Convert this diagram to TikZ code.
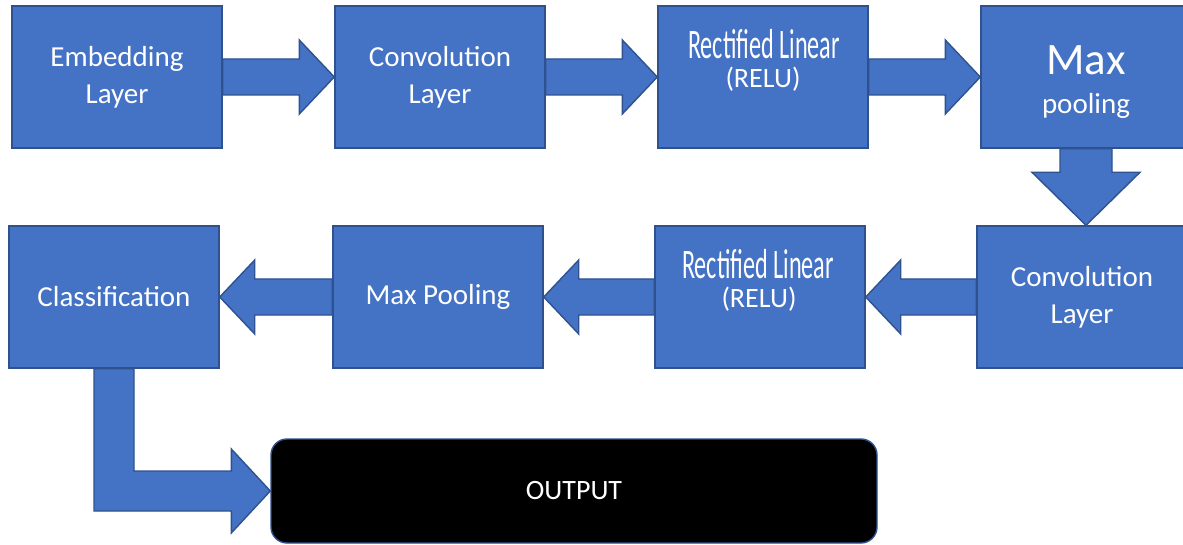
\documentclass[tikz,border=0pt]{standalone}
\usepackage{fontspec}
\usepackage{graphicx}
\setmainfont{Carlito}
\usetikzlibrary{calc}
\definecolor{boxblue}{RGB}{68,114,196}
\definecolor{edgeblue}{RGB}{47,82,143}
\tikzset{
  layer/.style={draw=edgeblue,fill=boxblue,line width=1.4pt,text=white,
    minimum width=210pt,minimum height=142pt,inner sep=0pt,align=center,
    font=\fontsize{29}{37}\selectfont},
  fatarrow/.style={draw=edgeblue,fill=boxblue,line width=1.4pt,line join=miter},
  whitetext/.style={text=white,inner sep=0pt,anchor=base}
}
% squeezed label, as in the reference
\newcommand{\squashed}{\fontsize{42}{48}\selectfont\resizebox{152pt}{\height}{Rectified Linear}}
% #1 start, #2 tip, #3 shaft half width, #4 head half width, #5 head length
\newcommand{\blockarrow}[5]{%
  \coordinate (ba) at ($(#2)!#5!(#1)$);
  \draw[fatarrow] ($(#1)!#3!90:(#2)$) -- ($(ba)!#3!-90:(#1)$) -- ($(ba)!#4!-90:(#1)$)
    -- (#2) -- ($(ba)!#4!90:(#1)$) -- ($(ba)!#3!90:(#1)$) -- ($(#1)!#3!-90:(#2)$) -- cycle;
}

\begin{document}
\begin{tikzpicture}[x=1pt,y=-1pt]
  \useasboundingbox (0,0) rectangle (1183,545);
  \clip (0,0) rectangle (1183,545);
  \foreach \n/\x/\y/\t in {
    emb/117/77/Embedding\\Layer,
    conv1/440/77/Convolution\\Layer,
    relu1/763/77/{},
    maxp1/1086/77/{{\fontsize{45}{50}\selectfont\rule{0pt}{39pt}Max}\\[2pt]pooling},
    cls/114/297/Classification,
    maxp2/438/297/Max Pooling,
    relu2/760/297/{},
    conv2/1082/297/Convolution\\Layer}
  {
    \node[layer] (\n) at (\x,\y) {\t};
  }
  \node[whitetext] (relu1a) at (764,59) {\squashed};
  \node[whitetext,font=\fontsize{28}{34}\selectfont] (relu1b) at (763,88) {(RELU)};
  \node[whitetext] (relu2a) at (758,279) {\squashed};
  \node[whitetext,font=\fontsize{28}{34}\selectfont] (relu2b) at (759,308) {(RELU)};
  \node[draw=edgeblue,fill=black,line width=1.4pt,rounded corners=16pt,
    minimum width=606pt,minimum height=104pt,text=white,
    font=\fontsize{28}{34}\selectfont] (out) at (574,491) {OUTPUT};

  \blockarrow{emb.east}{conv1.west}{18pt}{37pt}{35pt}
  \blockarrow{conv1.east}{relu1.west}{18pt}{37pt}{35pt}
  \blockarrow{relu1.east}{maxp1.west}{18pt}{37pt}{35pt}
  \coordinate (downtip) at (maxp1.south |- conv2.north);
  \blockarrow{maxp1.south}{downtip}{26pt}{54pt}{53pt}
  \blockarrow{conv2.west}{relu2.east}{18pt}{37pt}{35pt}
  \blockarrow{relu2.west}{maxp2.east}{18pt}{37pt}{35pt}
  \blockarrow{maxp2.west}{cls.east}{18pt}{37pt}{35pt}
  \draw[fatarrow] let \p1=(cls.south), \p2=(out.west) in
    (\x1-20pt,\y1) -- (\x1-20pt,\y2-20pt) -- (\x2-39pt,\y2-20pt) -- (\x2-39pt,\y2-42pt)
    -- (\p2) -- (\x2-39pt,\y2+42pt) -- (\x2-39pt,\y2+20pt) -- (\x1+20pt,\y2+20pt)
    -- (\x1+20pt,\y1) -- cycle;
\end{tikzpicture}
\end{document}
